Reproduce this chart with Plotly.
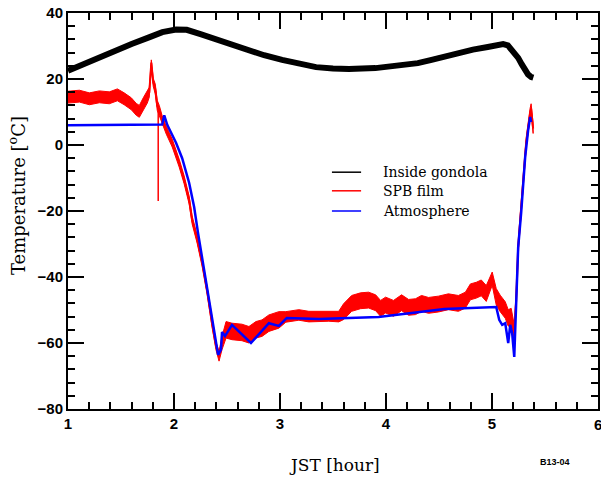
import plotly.graph_objects as go

# Inside gondola temperature (hour JST, degC)
gondola_t = [1.0, 1.15, 1.3, 1.45, 1.6, 1.77, 1.89, 2.02, 2.12, 2.25, 2.4, 2.55, 2.71, 2.85,
             3.02, 3.18, 3.34, 3.5, 3.65, 3.9, 4.12, 4.3, 4.43, 4.55, 4.68, 4.82, 4.96, 5.05,
             5.105, 5.15, 5.18, 5.215, 5.247, 5.28, 5.31, 5.34, 5.37, 5.39]
gondola_v = [22.5, 24.6, 26.7, 28.6, 30.6, 32.7, 34.2, 35.0, 34.9, 33.6, 32.0, 30.3, 28.8, 27.2,
             25.8, 24.6, 23.6, 23.2, 23.0, 23.3, 23.9, 24.8, 25.8, 26.8, 27.9, 28.9, 29.7, 30.3,
             30.6, 30.2, 29.1, 27.8, 26.4, 24.5, 22.7, 21.4, 20.6, 20.4]

# SPB film temperature (mean) and half-width of its scatter
film_t = [1.0, 1.108, 1.202, 1.296, 1.39, 1.466, 1.53, 1.597, 1.644, 1.673, 1.71, 1.748, 1.767,
          1.786, 1.804, 1.823, 1.842, 1.861, 1.889, 1.927, 1.983, 2.049, 2.096, 2.143, 2.171,
          2.218, 2.265, 2.312, 2.359, 2.397, 2.425, 2.453, 2.491, 2.547, 2.641, 2.707, 2.773,
          2.83, 2.895, 2.989, 3.055, 3.178, 3.272, 3.366, 3.46, 3.554, 3.60, 3.676, 3.76, 3.836,
          3.902, 3.949, 3.996, 4.071, 4.147, 4.213, 4.278, 4.335, 4.401, 4.495, 4.589, 4.683,
          4.749, 4.796, 4.852, 4.899, 4.946, 5.002, 5.04, 5.077, 5.125, 5.153, 5.181, 5.21,
          5.228, 5.247, 5.275, 5.322, 5.36, 5.369, 5.388]
film_v = [14.5, 14.8, 14.0, 14.6, 14.3, 15.2, 14.0, 12.5, 10.8, 10.2, 12.5, 14.5, 16.0,
          25.0, 19.0, 17.0, 12.0, 10.5, 7.6, 4.5, 0.6, -5.5, -10.6, -16.7, -22.7,
          -28.5, -35.5, -44.0, -54.0, -61.0, -64.0, -60.0, -56.0, -56.5, -56.8, -57.5, -56.0,
          -55.5, -54.0, -53.0, -52.1, -51.5, -52.0, -52.0, -51.8, -52.0, -50.5, -48.0, -47.2, -47.0,
          -47.8, -49.5, -48.5, -49.5, -47.8, -49.2, -49.0, -48.0, -48.6, -48.2, -47.5, -48.0,
          -47.0, -44.5, -44.0, -43.3, -45.0, -40.5, -46.0, -48.0, -50.0, -52.4, -52.0, -56.5,
          -47.0, -31.0, -19.0, 0.6, 9.7, 11.0, 5.0]
film_spread = [1.8, 1.8, 1.8, 1.8, 1.8, 1.8, 1.8, 1.8, 1.8, 1.8, 1.8, 1.8, 1.5,
               0.8, 1.2, 1.5, 1.5, 1.5, 1.2, 1.2, 1.2, 1.2, 1.2, 1.2, 1.2,
               1.2, 1.2, 1.2, 1.2, 1.2, 1.5, 2.0, 2.5, 2.5, 2.5, 2.5, 2.5,
               2.5, 2.5, 2.5, 1.6, 1.6, 1.6, 1.6, 1.6, 1.6, 2.4, 2.4, 2.4, 2.4,
               2.4, 2.4, 2.4, 2.4, 2.4, 2.4, 2.4, 2.4, 2.4, 2.4, 2.4, 2.4,
               2.4, 2.4, 2.4, 2.4, 2.4, 2.0, 2.5, 2.5, 2.5, 2.5, 2.5, 2.0,
               2.0, 1.5, 1.5, 1.5, 1.5, 1.5, 1.5]

# short dropout in the film sensor record
dropout_t = [1.851, 1.851]
dropout_v = [11.0, -17.0]

# Atmosphere temperature
atmos_t = [1.0, 1.889, 1.908, 1.936, 2.02, 2.077, 2.143, 2.19, 2.227, 2.265, 2.312, 2.359,
           2.397, 2.416, 2.443, 2.453, 2.481, 2.547, 2.726, 2.895, 2.989, 3.064, 3.366, 3.93,
           4.55, 5.04, 5.068, 5.096, 5.125, 5.153, 5.172, 5.19, 5.21, 5.228, 5.247, 5.275,
           5.313, 5.341, 5.36, 5.369]
atmos_v = [6.0, 6.2, 9.0, 6.1, 0.6, -4.0, -11.5, -18.8, -26.7, -34.0, -43.0, -53.0,
           -60.0, -63.6, -62.0, -56.7, -57.9, -54.5, -60.0, -54.0, -54.8, -52.4, -52.7, -52.1,
           -49.7, -49.1, -53.0, -54.5, -54.0, -60.0, -54.5, -57.0, -64.2, -46.0, -31.0, -20.6,
           -3.6, 4.5, 8.5, 7.0]

series_names = ["Inside gondola", "SPB film", "Atmosphere"]
series_colors = ["black", "#ff0000", "#0000ff"]

fig = go.Figure()
fig.add_trace(go.Scatter(x=gondola_t, y=gondola_v, mode="lines",
                         line=dict(color=series_colors[0], width=6), name=series_names[0]))

# film scatter envelope
film_hi = [v + s for v, s in zip(film_v, film_spread)]
film_lo = [v - s for v, s in zip(film_v, film_spread)]
fig.add_trace(go.Scatter(x=film_t + film_t[::-1], y=film_hi + film_lo[::-1], mode="lines",
                         fill="toself", fillcolor=series_colors[1],
                         line=dict(color=series_colors[1], width=1), hoverinfo="skip"))
fig.add_trace(go.Scatter(x=film_t, y=film_v, mode="lines",
                         line=dict(color=series_colors[1], width=2), name=series_names[1]))
fig.add_trace(go.Scatter(x=dropout_t, y=dropout_v, mode="lines",
                         line=dict(color=series_colors[1], width=1.5)))
fig.add_trace(go.Scatter(x=atmos_t, y=atmos_v, mode="lines",
                         line=dict(color=series_colors[2], width=2.5), name=series_names[2]))

serif = "DejaVu Serif"
sans = "Liberation Sans"

# legend: short line segments with labels
leg_y = [0.598, 0.551, 0.50]
for name, color, yy in zip(series_names, series_colors, leg_y):
    fig.add_shape(type="line", xref="paper", yref="paper", x0=0.498, x1=0.553, y0=yy, y1=yy,
                  line=dict(color=color, width=1.5))
    fig.add_annotation(xref="paper", yref="paper", x=0.59, y=yy, text=name, showarrow=False,
                       xanchor="left", yanchor="middle",
                       font=dict(family=serif, size=14, color="black"))

fig.add_annotation(xref="paper", yref="paper", x=0.502, y=-0.141, text="JST [hour]",
                   showarrow=False, xanchor="center", yanchor="middle",
                   font=dict(family=serif, size=17, color="black"))
fig.add_annotation(xref="paper", yref="paper", x=-0.096, y=0.538, text="Temperature [<sup>o</sup>C]",
                   showarrow=False, textangle=-90, xanchor="center", yanchor="middle",
                   font=dict(family=serif, size=18, color="black"))
fig.add_annotation(xref="paper", yref="paper", x=0.919, y=-0.134, text="<b>B13-04</b>",
                   showarrow=False, xanchor="center", yanchor="middle",
                   font=dict(family=sans, size=9, color="black"))
# last x tick label sits on the page edge
fig.add_annotation(xref="x", yref="paper", x=6, y=-0.04, text="6", showarrow=False,
                   xanchor="center", yanchor="middle",
                   font=dict(family=sans, size=15, color="black", weight="bold"))

axis_common = dict(showgrid=False, zeroline=False, showline=True, linecolor="black",
                   linewidth=2, mirror="allticks", ticks="inside", tickcolor="black",
                   tickwidth=1.5, ticklen=16,
                   tickfont=dict(family=sans, size=15, color="black", weight="bold"))

fig.update_xaxes(range=[1, 6], dtick=1, tick0=1,
                 minor=dict(dtick=0.2, ticks="inside", ticklen=7, tickcolor="black", tickwidth=1.5),
                 **axis_common)
fig.update_yaxes(range=[-80, 40], dtick=20, tick0=0,
                 minor=dict(dtick=4, ticks="inside", ticklen=7, tickcolor="black", tickwidth=1.5),
                 **axis_common)

fig.update_layout(width=601, height=477, margin=dict(l=68, r=1, t=13, b=68),
                  plot_bgcolor="white", paper_bgcolor="white", showlegend=False)

fig.write_html("out.html")
